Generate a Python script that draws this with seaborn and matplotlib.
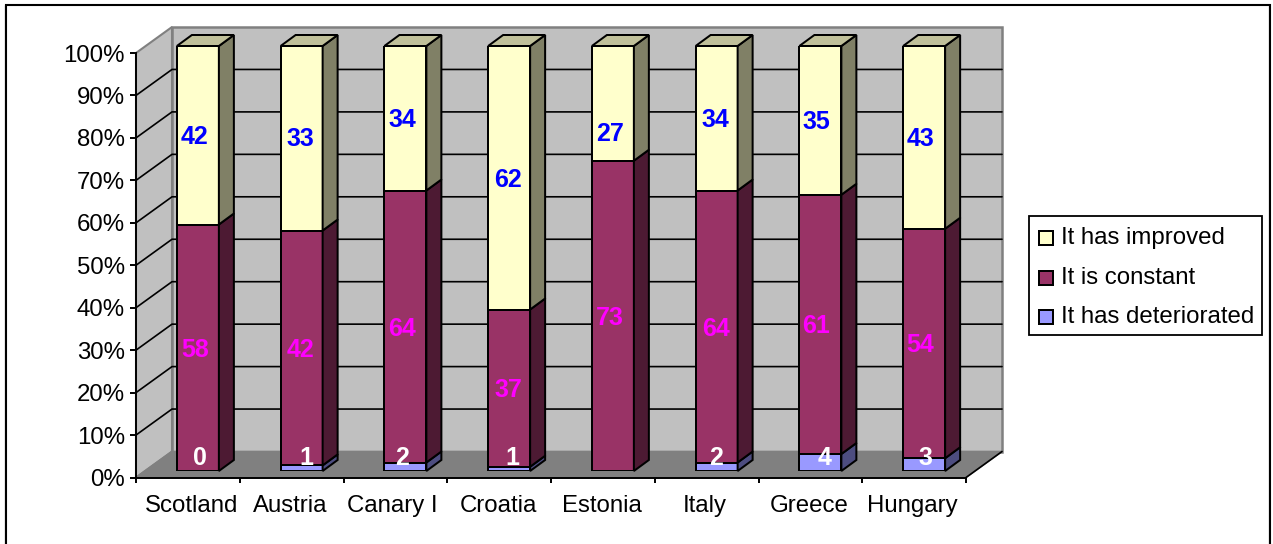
import numpy as np
import pandas as pd
import matplotlib
matplotlib.use("Agg")
import matplotlib.pyplot as plt
from matplotlib.patches import Polygon, Rectangle
from matplotlib.transforms import ScaledTranslation
import seaborn as sns

countries = ["Scotland", "Austria", "Canary I", "Croatia", "Estonia", "Italy", "Greece", "Hungary"]
deteriorated = [0, 1, 2, 1, 0, 2, 4, 3]
constant = [58, 42, 64, 37, 73, 64, 61, 54]
improved = [42, 33, 34, 62, 27, 34, 35, 43]
det_labels = ["0", "1", "2", "1", "", "2", "4", "3"]
y_ticks = list(range(0, 101, 10))

W, H = 1273, 544
sns.set_theme(style="white")
plt.rcParams["font.family"] = ["Liberation Sans", "DejaVu Sans"]

fig = plt.figure(figsize=(W / 100, H / 100), dpi=100, facecolor="white")

def px_axes(l, t, r, b, z):
    ax = fig.add_axes([l / W, 1 - b / H, (r - l) / W, (b - t) / H], zorder=z)
    ax.patch.set_alpha(0)
    return ax

def shift(dx, dy):
    return ScaledTranslation(dx / 100, -dy / 100, fig.dpi_scale_trans)

# frame: the bottom edge runs off the picture
fx0, fy0, fx1 = 6, 5, 1270
fig.add_artist(plt.Line2D([(fx0 - 1.5) / W] * 2, [0, 1 - fy0 / H], color="#B0B0B0", lw=1, transform=fig.transFigure))
fig.add_artist(plt.Line2D([(fx1 - 1.5) / W] * 2, [0, 1 - (fy0 + 1) / H], color="#B0B0B0", lw=1, transform=fig.transFigure))
fig.add_artist(plt.Line2D([fx0 / W, fx0 / W, fx1 / W, fx1 / W], [0, 1 - fy0 / H, 1 - fy0 / H, 0],
                          color="black", lw=1.5, transform=fig.transFigure, solid_joinstyle="miter"))

n = len(countries)
cat_w = (966 - 136) / n
ax = px_axes(136, 53, 966, 477.5, 1)
ax.set_xlim(-0.5, n - 0.5)
ax.set_ylim(0, 100)
DX, DY = 36 / cat_w, 26 / 4.245

def poly(a, pts, fc, ec, lw, z):
    a.add_patch(Polygon(pts, closed=True, fc=fc, ec=ec, lw=lw, clip_on=False, zorder=z, joinstyle="miter"))

x0, x1 = -0.5, n - 0.5
poly(ax, [(x0, 0), (x0, 100), (x0 + DX, 100 + DY), (x0 + DX, DY)], "#C0C0C0", "#808080", 1.5, 1)
poly(ax, [(x0 + DX, DY), (x0 + DX, 100 + DY), (x1 + DX, 100 + DY), (x1 + DX, DY)], "#C0C0C0", "#808080", 1.8, 1)
poly(ax, [(x0, 0), (x1, 0), (x1 + DX, DY), (x0 + DX, DY)], "#808080", "#808080", 1.2, 1)
for t in y_ticks[1:-1]:
    ax.plot([x0, x0 + DX, x1 + DX], [t, t + DY, t + DY], color="black", lw=1.2, clip_on=False, zorder=2)
ax.plot([x1, x1 + DX], [0, DY], color="black", lw=1.2, clip_on=False, zorder=2)

for s in ["top", "right"]:
    ax.spines[s].set_visible(False)
for s in ["left", "bottom"]:
    ax.spines[s].set_color("black")
    ax.spines[s].set_linewidth(1.4)
    ax.spines[s].set_zorder(3)
ax.set_yticks(y_ticks)
ax.set_yticklabels([f"{t}%" for t in y_ticks], fontsize=17.3, color="black")
ax.set_xticks(np.arange(n + 1) - 0.5)
ax.set_xticklabels([])
ax.set_xticks(np.arange(n), minor=True)
ax.set_xticklabels(countries, minor=True, fontsize=17.3, color="black")
ax.tick_params(axis="y", which="major", left=True, length=4, width=1.4, color="black", pad=4)
ax.tick_params(axis="x", which="major", bottom=True, length=3.5, width=1.4, color="black")
ax.tick_params(axis="x", which="minor", bottom=False, length=0, pad=12.5)
fig.canvas.draw()
cat_label_dx = [3.5, -1, -3, -1, -1, -1.5, -1, -2]
for lbl, d in zip(ax.get_xticklabels(minor=True), cat_label_dx):
    lbl.set_transform(lbl.get_transform() + shift(d, 0))

# bars: front faces sit in a plane slightly behind the axis plane
axb = px_axes(146, 46, 976, 471, 2)
tot = np.array(deteriorated) + np.array(constant) + np.array(improved)
c1 = 100 * np.array(deteriorated) / tot
c2 = c1 + 100 * np.array(constant) / tot
c3 = c2 + 100 * np.array(improved) / tot
df = pd.DataFrame({"country": countries, "det": c1, "con": c2, "imp": c3})
bw = 42 / cat_w
fronts = {"imp": "#FFFFCC", "con": "#993366", "det": "#9999FF"}
for key in ["imp", "con", "det"]:
    sns.barplot(data=df, x="country", y=key, color=fronts[key], saturation=1, width=bw,
                edgecolor="black", linewidth=1.44, ax=axb, zorder=5)
axb.set_xlim(-0.5, n - 0.5)
axb.set_ylim(0, 100)
axb.axis("off")

bdx, bdy = 15 / cat_w, 11 / 4.25
sides = [(0 * c1, c1, "#4D4D80"), (c1, c2, "#4D1A33"), (c2, c3, "#808066")]
for i in range(n):
    xr = i + bw / 2
    xl = i - bw / 2
    for lo, hi, col in sides:
        if hi[i] - lo[i] > 0:
            poly(axb, [(xr, lo[i]), (xr, hi[i]), (xr + bdx, hi[i] + bdy), (xr + bdx, lo[i] + bdy)], col, "black", 1.44, 6)
    poly(axb, [(xl, c3[i]), (xr, c3[i]), (xr + bdx, c3[i] + bdy), (xl + bdx, c3[i] + bdy)], "#C0C09A", "black", 1.44, 6)

# data labels, with the small offsets Excel gave them (pixels)
imp_dx = [-3, -1, -3, -1, -3, -1, -4, -4]
imp_dy = [2, 1, 2, 2, 31, 2, 2, 2]
det_dx = [2, 5, -3, 3, 0, -1, 4, 1]
det_pct = 3
font = dict(fontsize=18, fontweight="bold", ha="center", va="center", zorder=8)
for i in range(n):
    axb.text(i, (c2[i] + c3[i]) / 2, str(improved[i]), color="#0000FF",
             transform=axb.transData + shift(imp_dx[i], imp_dy[i]), **font)
    axb.text(i, (c1[i] + c2[i]) / 2, str(constant[i]), color="#FF00FF",
             transform=axb.transData + shift(imp_dx[i], 2), **font)
    if det_labels[i]:
        axb.text(i, det_pct, det_labels[i], color="white",
                 transform=axb.transData + shift(det_dx[i], 0), **font)

# legend
fig.add_artist(Rectangle((1029 / W, 1 - 335 / H), 233 / W, 119 / H, transform=fig.transFigure,
                         fc="white", ec="black", lw=1.3))
for name, col, yp in [("It has improved", fronts["imp"], 238), ("It is constant", fronts["con"], 278),
                      ("It has deteriorated", fronts["det"], 317)]:
    fig.add_artist(Rectangle((1039 / W, 1 - (yp + 7) / H), 14 / W, 14 / H, transform=fig.transFigure,
                             fc=col, ec="black", lw=1.44))
    fig.text(1061 / W, 1 - yp / H, name, fontsize=17.3, color="black", ha="left", va="center")

fig.savefig("out.png", dpi=100)
